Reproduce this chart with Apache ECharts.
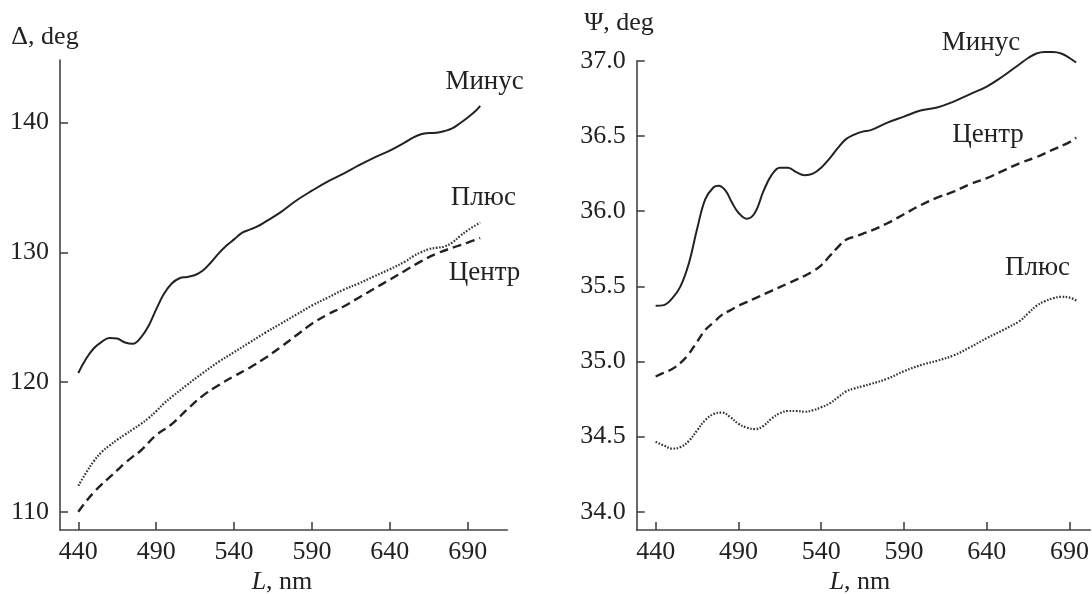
<!DOCTYPE html>
<html><head><meta charset="utf-8">
<script src="https://cdn.jsdelivr.net/npm/echarts@6/dist/echarts.min.js"></script>
<style>html,body{margin:0;padding:0;background:#fff}#c{width:1092px;height:594px}</style>
</head><body><div id="c"></div>
<script>
// ---- Left panel: Delta, deg ----
const deltaMinusL = [440,445,450,455,460,465,470,475,480,485,490,495,500,505,510,515,520,525,530,535,540,545,550,555,560,570,580,590,600,610,620,630,640,650,655,660,665,670,675,680,685,690,695,698];
const deltaMinusV = [120.7,121.8,122.6,123.1,123.4,123.35,123.05,122.95,123.4,124.3,125.6,126.8,127.6,128.0,128.1,128.25,128.6,129.2,129.9,130.5,131.0,131.5,131.75,132.0,132.35,133.1,134.0,134.75,135.45,136.05,136.7,137.3,137.85,138.5,138.85,139.1,139.2,139.22,139.35,139.55,139.95,140.4,140.9,141.3];
const deltaPlusL = [440,445,450,455,460,465,470,475,480,485,490,495,500,510,520,530,540,550,560,570,580,590,600,610,620,630,640,650,655,660,665,670,675,680,685,690,698];
const deltaPlusV = [112.0,113.0,113.9,114.6,115.1,115.55,115.95,116.35,116.75,117.2,117.75,118.35,118.85,119.8,120.7,121.55,122.3,123.05,123.8,124.5,125.2,125.9,126.5,127.1,127.6,128.15,128.7,129.3,129.7,130.0,130.25,130.35,130.45,130.75,131.25,131.7,132.3];
const deltaCenterL = [440,445,450,455,460,465,470,475,480,490,500,510,520,530,540,550,560,570,580,590,600,610,620,630,640,650,660,670,680,690,698];
const deltaCenterV = [110.0,110.8,111.5,112.1,112.65,113.2,113.75,114.25,114.7,115.9,116.75,117.9,118.95,119.75,120.45,121.1,121.85,122.7,123.6,124.5,125.2,125.8,126.5,127.2,127.9,128.6,129.3,129.9,130.35,130.75,131.1];

// ---- Right panel: Psi, deg ----
const psiMinusL = [440,445,450,455,460,465,470,475,478,482,486,490,495,500,505,510,515,520,525,530,535,540,545,550,555,560,565,570,580,590,600,610,620,630,640,650,655,660,665,670,675,680,685,690,694];
const psiMinusV = [35.37,35.375,35.42,35.5,35.65,35.88,36.08,36.16,36.17,36.14,36.06,35.99,35.95,35.99,36.13,36.24,36.29,36.29,36.26,36.24,36.25,36.29,36.35,36.42,36.48,36.51,36.53,36.54,36.59,36.63,36.67,36.69,36.73,36.78,36.83,36.9,36.94,36.98,37.02,37.05,37.06,37.06,37.05,37.02,36.99];
const psiCenterL = [440,445,450,455,460,465,470,475,480,485,490,495,500,510,520,530,535,540,545,550,555,560,565,570,580,590,600,610,620,630,640,650,660,670,680,690,694];
const psiCenterV = [34.9,34.925,34.95,34.99,35.05,35.13,35.21,35.26,35.31,35.34,35.37,35.395,35.42,35.47,35.52,35.57,35.6,35.64,35.7,35.76,35.81,35.83,35.85,35.87,35.92,35.98,36.04,36.09,36.13,36.18,36.22,36.27,36.32,36.36,36.41,36.46,36.49];
const psiPlusL = [440,445,450,455,460,465,470,475,480,485,490,495,500,505,510,515,520,525,530,535,540,545,550,555,560,565,570,580,590,600,610,620,630,640,650,660,665,670,675,680,685,690,695];
const psiPlusV = [34.465,34.44,34.42,34.43,34.47,34.54,34.61,34.65,34.66,34.63,34.585,34.56,34.55,34.57,34.62,34.655,34.67,34.67,34.665,34.675,34.695,34.72,34.76,34.80,34.82,34.835,34.85,34.885,34.935,34.975,35.005,35.04,35.095,35.155,35.21,35.27,35.32,35.37,35.4,35.42,35.43,35.425,35.4];

const xTicks = [440,490,540,590,640,690];
const deltaTicks = [110,120,130,140];
const psiTicks = [34.0,34.5,35.0,35.5,36.0,36.5,37.0];

const labelTexts = {minus:'Минус', plus:'Плюс', center:'Центр'};

const zip = (a,b) => a.map((v,i)=>[v,b[i]]);
const FONT = '"Liberation Serif", "DejaVu Serif", serif';
const INK = '#222';
const AX = '#444';

function xAxis(gi, min, max){
  return {type:'value', gridIndex:gi, min, max,
    axisLine:{show:true, lineStyle:{color:AX, width:1.6}},
    axisTick:{show:true, inside:true, length:8, lineStyle:{color:AX, width:1.6}, customValues:xTicks},
    axisLabel:{customValues:xTicks, fontFamily:FONT, fontSize:26, color:INK, margin:9},
    splitLine:{show:false}};
}
function yAxis(gi, min, max, ticks, fmt){
  return {type:'value', gridIndex:gi, min, max,
    axisLine:{show:true, lineStyle:{color:AX, width:1.6}},
    axisTick:{show:true, inside:true, length:8, lineStyle:{color:AX, width:1.6}, customValues:ticks},
    axisLabel:{customValues:ticks, fontFamily:FONT, fontSize:26, color:INK, margin:11, formatter:fmt},
    splitLine:{show:false}};
}
const solid = {color:INK, width:2, type:'solid'};
const dashed = {color:INK, width:2.4, type:[9,5]};
const dotted = {color:'#333', width:2.2, type:[1.6,1.6]};
function line(xi, data, ls){
  return {type:'line', xAxisIndex:xi, yAxisIndex:xi, data, smooth:0.4, clip:false, showSymbol:false, symbol:'none', lineStyle:ls, silent:true, animation:false};
}
function txt(x,y,text,extra){
  return {type:'text', x, y, style:Object.assign({text, fontFamily:FONT, fontSize:27, fill:INK, align:'center', verticalAlign:'middle'}, extra||{})};
}
function axisName(x,y){
  return {type:'text', x, y, style:{text:'{i|L}, nm', rich:{i:{fontStyle:'italic', fontFamily:FONT, fontSize:26, fill:INK}}, fontFamily:FONT, fontSize:26, fill:INK, align:'center', verticalAlign:'middle'}};
}

const chart = echarts.init(document.getElementById('c'), null, {renderer:'canvas'});
chart.setOption({
  animation:false,
  backgroundColor:'#fff',
  grid:[
    {left:60, top:60, width:447.3, height:470},
    {left:636.7, top:61, width:455.3, height:469}
  ],
  xAxis:[xAxis(0, 428.25, 715.4), xAxis(1, 428.56, 702.6)],
  yAxis:[yAxis(0, 108.59, 144.83, deltaTicks, v=>String(v)),
         yAxis(1, 33.878, 37.0, psiTicks, v=>v.toFixed(1))],
  series:[
    line(0, zip(deltaMinusL, deltaMinusV), solid),
    line(0, zip(deltaPlusL, deltaPlusV), dotted),
    line(0, zip(deltaCenterL, deltaCenterV), dashed),
    line(1, zip(psiMinusL, psiMinusV), solid),
    line(1, zip(psiCenterL, psiCenterV), dashed),
    line(1, zip(psiPlusL, psiPlusV), dotted)
  ],
  graphic:[
    txt(45, 37, 'Δ, deg', {fontSize:26}),
    txt(619, 23, 'Ψ, deg', {fontSize:26}),
    axisName(282, 582),
    axisName(860, 582),
    txt(484.6, 82, labelTexts.minus),
    txt(483.4, 198, labelTexts.plus),
    txt(484.5, 273, labelTexts.center),
    txt(981, 43, labelTexts.minus),
    txt(988, 135, labelTexts.center),
    txt(1037.5, 268, labelTexts.plus)
  ]
});
</script></body></html>
